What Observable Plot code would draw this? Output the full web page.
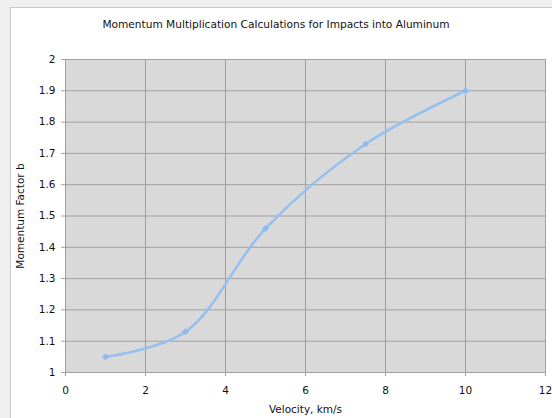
<!DOCTYPE html>
<html>
<head>
<meta charset="utf-8">
<script src="https://cdn.jsdelivr.net/npm/d3@7"></script>
<script src="https://cdn.jsdelivr.net/npm/@observablehq/plot@0.6"></script>
<style>
  html, body { margin: 0; padding: 0; }
  body { width: 552px; height: 418px; background: #efefef; position: relative; overflow: hidden; font-family: "DejaVu Sans", sans-serif; }
  #card { position: absolute; left: 10px; top: 7px; width: 542px; height: 411px; background: #fff; border-left: 1px solid #c9c9c9; border-top: 1px solid #c9c9c9; box-sizing: border-box; }
  #title { position: absolute; left: 0; top: 18px; width: 552px; text-align: center; font-size: 10.6px; color: #111; }
  #chart { position: absolute; left: 10px; top: 45px; }
</style>
</head>
<body>
<div id="card"></div>
<div id="title">Momentum Multiplication Calculations for Impacts into Aluminum</div>
<div id="chart"></div>
<script>
const velocity = [1, 3, 5, 7.5, 10];
const factor = [1.05, 1.13, 1.46, 1.73, 1.90];
const xTicks = [0, 2, 4, 6, 8, 10, 12];
const yTicks = [1, 1.1, 1.2, 1.3, 1.4, 1.5, 1.6, 1.7, 1.8, 1.9, 2];
const xLabel = "Velocity, km/s";
const yLabel = "Momentum Factor b";

const data = velocity.map((v, i) => ({v, b: factor[i]}));

const chart = Plot.plot({
  width: 542,
  height: 373,
  marginLeft: 55,
  marginRight: 7,
  marginTop: 14,
  marginBottom: 46,
  style: {fontFamily: "DejaVu Sans, sans-serif", fontSize: "10.5px", color: "#111", background: "transparent"},
  x: {domain: [0, 12], ticks: xTicks},
  y: {domain: [1, 2], ticks: yTicks},
  marks: [
    Plot.frame({fill: "#d9d9d9", stroke: "none"}),
    Plot.gridX(xTicks, {stroke: "#a0a0a0", strokeOpacity: 1}),
    Plot.gridY(yTicks, {stroke: "#a0a0a0", strokeOpacity: 1}),
    Plot.axisX(xTicks, {tickSize: 4, tickPadding: 10, stroke: "#a0a0a0", label: xLabel, labelAnchor: "center", labelArrow: "none", labelOffset: 40, tickFormat: d => String(d)}),
    Plot.axisY(yTicks, {tickSize: 4, tickPadding: 6, stroke: "#a0a0a0", label: yLabel, labelAnchor: "center", labelArrow: "none", labelOffset: 49, tickFormat: d => String(d)}),
    Plot.line(data, {x: "v", y: "b", curve: "catmull-rom", stroke: "#98c0ee", strokeWidth: 2.6}),
    Plot.dot(data, {x: "v", y: "b", symbol: "diamond2", r: 3.2, fill: "#8fbaef", stroke: "none"})
  ]
});
document.getElementById("chart").append(chart);
</script>
</body>
</html>
